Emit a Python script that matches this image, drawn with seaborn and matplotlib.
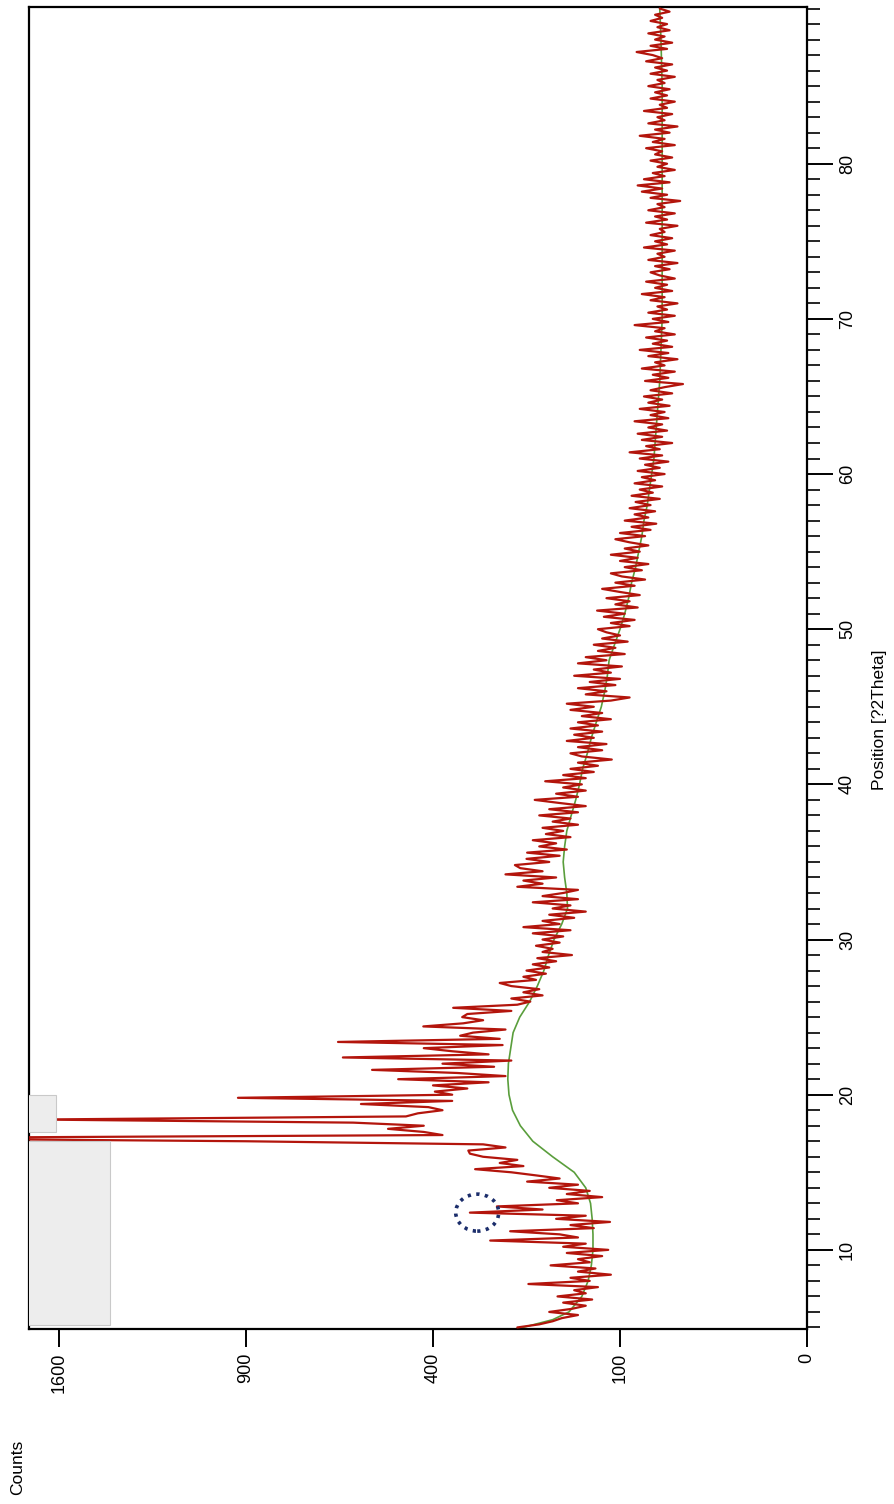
import numpy as np
import pandas as pd
import matplotlib
matplotlib.use("Agg")
import matplotlib.pyplot as plt
import seaborn as sns
from matplotlib.patches import Rectangle, Ellipse
from matplotlib.ticker import FixedLocator, MultipleLocator

# ---------------- data ----------------
POS_START = 5.0
POS_STEP = 0.2

counts = [
    # 5.0 - 9.8
    240, 205, 185, 172, 150, 190, 158, 140, 170, 132, 178, 140, 155, 125, 222, 135, 160, 110, 150, 128, 188, 135, 150, 120, 165,
    # 10.0 - 14.8
    113, 170, 140, 287, 150, 175, 252, 130, 160, 111, 180, 140, 325, 200, 275, 150, 179, 120, 165, 135, 190, 150, 224, 175, 210,
    # 15.0 - 19.8
    250, 315, 230, 270, 240, 300, 325, 328, 260, 300, 900, 2600, 380, 420, 502, 420, 589, 1700, 460, 433, 380, 410, 569, 360, 926,
    # 20.0 - 24.8
    360, 396, 330, 400, 290, 478, 260, 350, 541, 280, 380, 250, 616, 290, 360, 420, 265, 629, 270, 344, 319, 260, 421, 338, 300,
    # 25.0 - 29.8
    340, 330, 250, 358, 240, 219, 250, 200, 230, 205, 250, 270, 210, 230, 195, 225, 190, 215, 180, 208, 158, 200, 185, 210, 175,
    # 30.0 - 34.8
    200, 170, 215, 160, 230, 175, 200, 155, 190, 140, 185, 160, 215, 150, 200, 170, 150, 240, 200, 230, 180, 260, 200, 235, 244,
    # 35.0 - 39.8
    190, 225, 175, 224, 165, 205, 180, 215, 160, 195, 170, 200, 150, 185, 160, 205, 150, 190, 140, 175, 212, 150, 180, 140, 170,
    # 40.0 - 44.8
    145, 196, 140, 170, 130, 160, 125, 150, 109, 145, 160, 120, 150, 115, 165, 130, 155, 120, 160, 125, 150, 110, 145, 120, 160,
    # 45.0 - 49.8
    130, 165, 110, 90, 140, 115, 150, 105, 135, 100, 155, 110, 130, 98, 150, 115, 140, 95, 125, 105, 130, 92, 120, 100, 115,
    # 50.0 - 54.8
    125, 90, 110, 85, 118, 95, 126, 82, 105, 90, 115, 80, 100, 120, 85, 105, 75, 98, 110, 78, 95, 72, 100, 82, 110,
    # 55.0 - 59.8
    80, 95, 72, 90, 105, 75, 100, 70, 88, 65, 95, 72, 85, 66, 90, 70, 84, 62, 88, 68, 80, 60, 85, 66, 78,
    # 60.0 - 64.8
    58, 82, 62, 75, 55, 80, 60, 90, 62, 74, 52, 78, 60, 82, 56, 72, 60, 85, 55, 70, 58, 80, 54, 72, 60,
    # 65.0 - 69.8
    76, 52, 70, 58, 44, 75, 55, 68, 50, 78, 58, 66, 48, 72, 55, 80, 52, 68, 56, 74, 50, 66, 58, 85, 55,
    # 70.0 - 74.8
    68, 50, 72, 56, 64, 48, 70, 58, 78, 52, 66, 56, 74, 50, 62, 70, 54, 66, 48, 72, 58, 64, 50, 76, 56,
    # 75.0 - 79.8
    66, 52, 70, 58, 62, 48, 74, 56, 66, 50, 72, 58, 64, 46, 70, 56, 78, 60, 82, 54, 76, 58, 68, 50, 64,
    # 80.0 - 84.8
    56, 70, 52, 66, 60, 74, 50, 68, 58, 80, 54, 66, 48, 72, 58, 64, 52, 76, 56, 62, 50, 70, 56, 66, 54,
    # 85.0 - 90.0
    72, 58, 64, 50, 70, 56, 66, 52, 74, 60, 68, 83, 56, 70, 52, 66, 58, 72, 54, 64, 56, 70, 60, 66, 54, 62,
]
positions = np.round(POS_START + POS_STEP * np.arange(len(counts)), 2)

bg_pos = [5, 5.5, 6, 7, 8, 9, 10, 11, 12, 13, 14, 15, 16, 17, 18, 19, 20, 21, 22, 23, 24, 25, 26, 27, 28, 29,
          30, 31, 32, 33, 34, 35, 36, 37, 38, 39, 40, 41, 42, 43, 44, 45, 46, 47, 48, 49, 50, 51, 52, 53, 54,
          55, 56, 57, 58, 59, 60, 61, 62, 63, 64, 65, 66, 68, 70, 75, 80, 85, 88, 90]
bg_counts = [231, 185, 162, 145, 137, 133, 131, 131, 132, 134, 140, 155, 185, 215, 235, 248, 254, 256, 255, 251,
             247, 236, 220, 208, 198, 191, 183, 172, 164, 165, 168, 170, 168, 165, 159, 153, 148, 144, 138, 133,
             127, 121, 117, 114, 112, 106, 100, 95, 91, 88, 84, 81, 78, 76, 73, 71, 69, 67, 66, 65, 64, 63, 62,
             61, 60, 60, 60, 60, 61, 62]

count_ticks = [0, 100, 400, 900, 1600]
pos_major = [10, 20, 30, 40, 50, 60, 70, 80]

COUNT_MAX = 1731
POS_LIM = (4.9, 90.1)

# grey label boxes and the hand-drawn marker circle (annotation)
box_big = dict(count_from=1389, pos_from=5.15, pos_to=17.03)
box_small = dict(count_from=1613, pos_from=17.6, pos_to=20.0)
circle_center = (311, 12.4)

# ---------------- style ----------------
sns.set_style("ticks")
plt.rcParams["font.family"] = ["Liberation Sans", "DejaVu Sans"]
plt.rcParams["text.color"] = "black"
plt.rcParams["axes.labelcolor"] = "black"
plt.rcParams["xtick.color"] = "black"
plt.rcParams["ytick.color"] = "black"

fig = plt.figure(figsize=(8.95, 15.04), dpi=100)
W, H = 895, 1504
ax = fig.add_axes([29 / W, 1 - 1329 / H, (807 - 29) / W, (1329 - 7) / H])

fwd = lambda v: np.sqrt(np.clip(v, 0, None))
inv = lambda v: np.square(v)
ax.set_xscale("function", functions=(fwd, inv))

df = pd.DataFrame({"counts": counts, "pos": positions})
bg = pd.DataFrame({"counts": bg_counts, "pos": bg_pos})

sns.lineplot(data=bg, x="counts", y="pos", sort=False, estimator=None,
             color="#5a9e3c", lw=1.2, ax=ax, zorder=2)
sns.lineplot(data=df, x="counts", y="pos", sort=False, estimator=None,
             color="#b3150c", lw=1.6, ax=ax, zorder=3)

for b in (box_big, box_small):
    ax.add_patch(Rectangle((b["count_from"], b["pos_from"]), 3000, b["pos_to"] - b["pos_from"],
                           facecolor="#ededed", edgecolor="#c9c9c9", lw=0.8, zorder=4))

ax.set_xlim(COUNT_MAX, 0)
ax.set_ylim(*POS_LIM)

# dotted circle drawn around the small reflection
cx, cy = ax.transAxes.inverted().transform(ax.transData.transform(circle_center))
ax.add_patch(Ellipse((cx, cy), 43 / 778, 37 / 1322, transform=ax.transAxes, fill=False,
                     edgecolor="#1b2d6b", lw=2.6, linestyle=(0, (0.9, 1.5)), zorder=5))

# axes / ticks
ax.xaxis.set_major_locator(FixedLocator(count_ticks))
ax.set_xticklabels([str(t) for t in count_ticks])
ax.yaxis.tick_right()
ax.yaxis.set_major_locator(FixedLocator(pos_major))
ax.yaxis.set_minor_locator(MultipleLocator(1))
ax.tick_params(axis="x", direction="out", length=13, width=1.4, pad=4, labelsize=13,
               labelrotation=90, colors="black")
ax.tick_params(axis="y", which="major", direction="out", length=19, width=1.4, pad=4,
               labelsize=13, labelrotation=90, left=False, right=True, colors="black")
ax.tick_params(axis="y", which="minor", direction="out", length=9, width=1.2, left=False, right=True,
               colors="black")
for lbl in ax.get_yticklabels():
    lbl.set_va("center")
    lbl.set_ha("left")
for lbl in ax.get_xticklabels():
    lbl.set_ha("center")
    lbl.set_va("top")

for sp in ax.spines.values():
    sp.set_visible(True)
    sp.set_color("black")
    sp.set_linewidth(1.6)

ax.set_xlabel("Counts", rotation=90, fontsize=12.5, color="black")
ax.xaxis.set_label_coords((18 - 29) / 778, (1329 - 1467) / 1322)
ax.xaxis.label.set_va("center")
ax.xaxis.label.set_ha("center")
ax.set_ylabel("Position [?2Theta]", rotation=90, fontsize=12.5, color="black")
ax.yaxis.set_label_position("right")
ax.yaxis.set_label_coords((880 - 29) / 778, (1329 - 720) / 1322)
ax.yaxis.label.set_va("center")
ax.yaxis.label.set_ha("center")

fig.savefig("out.png", dpi=100, facecolor="white")
